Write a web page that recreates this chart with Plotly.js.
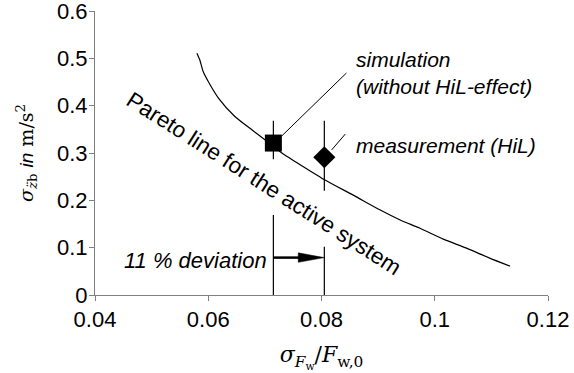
<!DOCTYPE html>
<html>
<head>
<meta charset="utf-8">
<script src="https://cdn.plot.ly/plotly-3.0.1.min.js"></script>
<style>
  html, body { margin: 0; padding: 0; background: #fff; }
  #chart { width: 574px; height: 373px; }
</style>
</head>
<body>
<div id="chart"></div>
<script>
// Pareto front of the active system: body acceleration vs. relative wheel load
const paretoX = [0.0580, 0.0585, 0.0591, 0.0600, 0.0618, 0.0647, 0.0677, 0.0700, 0.0730, 0.0768,
                 0.0806, 0.0856, 0.0903, 0.0938, 0.0974, 0.1015, 0.1056, 0.1097, 0.1133];
const paretoY = [0.511, 0.497, 0.472, 0.451, 0.416, 0.377, 0.349, 0.328, 0.300, 0.271,
                 0.243, 0.211, 0.180, 0.159, 0.141, 0.118, 0.099, 0.078, 0.061];

// Simulated operating point (without HiL effect) and its spread
const simX = [0.0715];
const simY = [0.321];
const simErrPlus = [0.047];
const simErrMinus = [0.034];

// Measured operating point (HiL) and its spread
const measX = [0.0805];
const measY = [0.291];
const measErrPlus = [0.077];
const measErrMinus = [0.071];

// Deviation marker: drop lines from the axis and the arrow between them
const devX = [0.0715, 0.0805];
const devTop = [0.169, 0.102];
const devArrowY = 0.079;
const devLabel = '11 % deviation';

// Leader lines to the labels
const simLeaderX = [0.0729, 0.0844];
const simLeaderY = [0.335, 0.469];
const measLeaderX = [0.0818, 0.0842];
const measLeaderY = [0.3066, 0.340];

const xTicks = [0.04, 0.06, 0.08, 0.1, 0.12];
const yTicks = [0, 0.1, 0.2, 0.3, 0.4, 0.5, 0.6];

const sans = '"Liberation Sans", Arial, sans-serif';
const serif = '"DejaVu Serif", "Liberation Serif", serif';
const black = '#000000';
const axisGray = '#808080';

// arrowhead size in axis units (long, slim head)
const headLen = 0.0046;
const headHalf = 0.010;

const traces = [
  {
    x: paretoX, y: paretoY, type: 'scatter', mode: 'lines',
    line: { color: black, width: 1.2, shape: 'spline', smoothing: 0.6 },
    hoverinfo: 'skip'
  },
  {
    x: [devX[0], devX[0], null, devX[1], devX[1]],
    y: [0, devTop[0], null, 0, devTop[1]],
    type: 'scatter', mode: 'lines',
    line: { color: black, width: 1.2 }, hoverinfo: 'skip'
  },
  {
    x: simLeaderX, y: simLeaderY, type: 'scatter', mode: 'lines',
    line: { color: black, width: 1 }, hoverinfo: 'skip'
  },
  {
    x: measLeaderX, y: measLeaderY, type: 'scatter', mode: 'lines',
    line: { color: black, width: 1 }, hoverinfo: 'skip'
  },
  {
    x: simX, y: simY, type: 'scatter', mode: 'markers',
    marker: { symbol: 'square', size: 17, color: black },
    error_y: { type: 'data', symmetric: false, array: simErrPlus, arrayminus: simErrMinus,
               width: 0, thickness: 1.2, color: black }
  },
  {
    x: measX, y: measY, type: 'scatter', mode: 'markers',
    marker: { symbol: 'diamond', size: 17, color: black },
    error_y: { type: 'data', symmetric: false, array: measErrPlus, arrayminus: measErrMinus,
               width: 0, thickness: 1.2, color: black }
  }
];

const tip = devX[1];
const layout = {
  width: 574, height: 373,
  margin: { l: 95, r: 26, t: 11, b: 78, pad: 0 },
  paper_bgcolor: '#ffffff', plot_bgcolor: '#ffffff',
  showlegend: false,
  font: { family: sans, size: 20, color: black },
  xaxis: {
    range: [0.04, 0.12], tickvals: xTicks, ticktext: xTicks.map(String),
    showgrid: false, zeroline: false, showline: true, linecolor: axisGray, linewidth: 1,
    ticks: 'outside', ticklen: 5, tickcolor: axisGray, ticklabeloverflow: 'allow',
    tickfont: { family: sans, size: 22, color: black },
    title: {
      text: '<i>σ</i><sub><i>F</i><sub>w</sub></sub>/<i>F</i><sub>w,0</sub>',
      font: { family: serif, size: 22, color: black },
      standoff: 17
    }
  },
  yaxis: {
    range: [0, 0.6], tickvals: yTicks, ticktext: yTicks.map(String),
    showgrid: false, zeroline: false, showline: true, linecolor: axisGray, linewidth: 1,
    ticks: 'outside', ticklen: 5, tickcolor: axisGray, ticklabeloverflow: 'allow',
    ticklabelstandoff: -3,
    tickfont: { family: sans, size: 22, color: black },
    title: {
      text: '<i>σ</i><sub><i>z̈</i>b</sub> <span style="font-family:' + "'Liberation Sans'" + '"><i>in</i></span> m/s<sup>2</sup>',
      font: { family: serif, size: 19, color: black },
      standoff: 18
    }
  },
  shapes: [
    {
      type: 'line', xref: 'x', yref: 'y',
      x0: devX[0], y0: devArrowY, x1: tip - headLen * 0.8, y1: devArrowY,
      line: { color: black, width: 2.5 }
    },
    {
      type: 'path', xref: 'x', yref: 'y',
      path: 'M' + (tip - headLen) + ',' + (devArrowY + headHalf) +
            ' L' + tip + ',' + devArrowY +
            ' L' + (tip - headLen) + ',' + (devArrowY - headHalf) + ' Z',
      fillcolor: black, line: { color: black, width: 0.5 }
    }
  ],
  annotations: [
    {
      x: 0.0858, y: 0.468, xref: 'x', yref: 'y', xanchor: 'left', yanchor: 'middle',
      text: '<i>simulation</i><br><i>(without HiL-effect)</i>', align: 'left',
      showarrow: false, font: { family: sans, size: 21, color: black }
    },
    {
      x: 0.0858, y: 0.315, xref: 'x', yref: 'y', xanchor: 'left', yanchor: 'middle',
      text: '<i>measurement (HiL)</i>', align: 'left',
      showarrow: false, font: { family: sans, size: 21, color: black }
    },
    {
      x: 0.0698, y: 0.236, xref: 'x', yref: 'y', xanchor: 'center', yanchor: 'middle',
      text: 'Pareto line for the active system', textangle: 32.5,
      showarrow: false, font: { family: sans, size: 22.5, color: black }
    },
    {
      x: devX[0], y: 0.072, xref: 'x', yref: 'y', xanchor: 'right', yanchor: 'middle',
      xshift: -4, text: '<i>' + devLabel + '</i>',
      showarrow: false, font: { family: sans, size: 22, color: black }
    }
  ]
};

Plotly.newPlot('chart', traces, layout, { displayModeBar: false, staticPlot: true });
</script>
</body>
</html>
